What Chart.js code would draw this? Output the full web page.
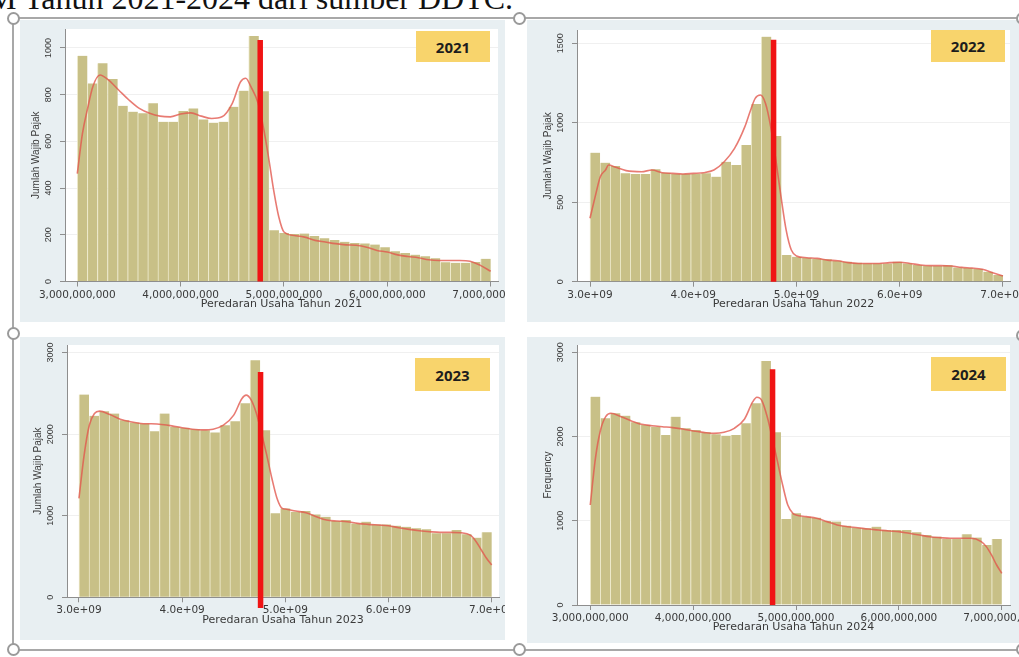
<!DOCTYPE html>
<html>
<head>
<meta charset="utf-8">
<script src="https://cdn.jsdelivr.net/npm/chart.js@4.4.1/dist/chart.umd.min.js"></script>
<style>
  html, body { margin: 0; padding: 0; background: #fff; width: 1019px; height: 657px; overflow: hidden; position: relative; }
  .cap { position: absolute; left: -12px; top: -18px; font-family: "Liberation Serif", serif; font-size: 32px; line-height: 32px; white-space: nowrap; color: #111; }
  .frame { position: absolute; left: 12px; top: 17px; width: 1100px; height: 630px; border: 2px solid #a8a8a8; }
  .handle { position: absolute; width: 9px; height: 9px; border: 2px solid #9a9a9a; border-radius: 50%; background: #fff; }
  canvas { position: absolute; background: #e8eff2; }
  .year { position: absolute; background: #f8d46c; font-family: "Open Sans", sans-serif; font-weight: 700; font-size: 15px; color: #1d1d1d;
          display: flex; align-items: center; justify-content: center; }
</style>
</head>
<body>
<div class="cap">M Tahun 2021-2024 dari sumber DDTC.</div>
<div class="frame"></div>

<canvas id="c2021" width="485" height="302" style="left:20px;top:20px"></canvas>
<canvas id="c2022" width="492" height="302" style="left:527px;top:20px"></canvas>
<canvas id="c2023" width="485" height="303" style="left:20px;top:337px"></canvas>
<canvas id="c2024" width="492" height="306" style="left:527px;top:337px"></canvas>

<div class="year" style="left:416px;top:31px;width:74px;height:31px">2021</div>
<div class="year" style="left:931px;top:30px;width:74px;height:32px">2022</div>
<div class="year" style="left:415px;top:358px;width:75px;height:33px">2023</div>
<div class="year" style="left:931px;top:357px;width:75px;height:34px">2024</div>

<div id="handles"></div>

<script>
// --- DATA (x in billions of rupiah) ---
const histStart = 3.0;
const histEnd = 7.0;

const counts2021 = [966, 848, 934, 867, 752, 727, 720, 763, 684, 684, 730, 741, 694, 680, 684, 748, 817, 1051, 815,
                    219, 208, 203, 205, 195, 185, 178, 170, 165, 163, 158, 147, 130, 122, 115, 108, 100, 82, 80, 80, 84, 97];
const counts2022 = [812, 749, 728, 682, 678, 678, 707, 686, 678, 678, 678, 682, 661, 755, 734, 860, 1118, 1542, 917,
                    168, 157, 151, 145, 141, 132, 126, 120, 115, 115, 115, 126, 115, 105, 101, 99, 103, 90, 86, 80, 63, 42];
const counts2023 = [2486, 2225, 2282, 2253, 2172, 2143, 2131, 2037, 2253, 2090, 2078, 2061, 2049, 2021, 2110, 2159, 2380, 2906, 2049,
                    1029, 1090, 1049, 1057, 1016, 988, 935, 947, 906, 927, 894, 894, 878, 865, 845, 833, 784, 784, 825, 772, 731, 796];
const counts2024 = [2474, 2216, 2276, 2248, 2169, 2137, 2117, 2019, 2236, 2098, 2078, 2050, 2026, 2011, 2019, 2157, 2394, 2897, 2050,
                    1021, 1088, 1049, 1037, 997, 990, 942, 918, 910, 930, 890, 890, 890, 863, 831, 811, 784, 784, 839, 800, 712, 784];

// kernel density overlay, read point by point
const kdeX2021 = [3.0, 3.05, 3.1, 3.15, 3.22, 3.3, 3.4, 3.5, 3.6, 3.7, 3.8, 3.9, 4.0, 4.1, 4.2, 4.3, 4.4, 4.5, 4.58, 4.63, 4.68, 4.75, 4.8, 4.85, 4.9, 4.95,
                  5.0, 5.1, 5.2, 5.3, 5.4, 5.5, 5.6, 5.7, 5.8, 5.9, 6.0, 6.1, 6.2, 6.3, 6.4, 6.5, 6.6, 6.7, 6.8, 6.9, 7.0];
const kdeY2021 = [462, 634, 741, 834, 884, 863, 820, 777, 741, 720, 708, 705, 717, 722, 708, 698, 705, 763, 855, 870, 834, 763, 662, 534, 391, 276,
                  212, 197, 190, 176, 169, 162, 157, 155, 147, 133, 126, 114, 107, 102, 93, 90, 90, 90, 87, 69, 44];

const kdeX2022 = [3.0, 3.05, 3.1, 3.15, 3.18, 3.25, 3.35, 3.5, 3.6, 3.7, 3.8, 3.9, 4.0, 4.1, 4.2, 4.3, 4.4, 4.5, 4.55, 4.6, 4.65, 4.7, 4.75, 4.8, 4.85, 4.9, 4.95,
                  5.0, 5.1, 5.2, 5.3, 5.4, 5.5, 5.6, 5.7, 5.8, 5.9, 6.0, 6.1, 6.2, 6.3, 6.4, 6.5, 6.6, 6.7, 6.8, 6.9, 7.0];
const kdeY2022 = [399, 535, 661, 703, 734, 720, 699, 692, 703, 686, 682, 678, 682, 686, 703, 755, 839, 976, 1070, 1154, 1175, 1122, 976, 766, 535, 325, 199,
                  162, 151, 147, 136, 132, 120, 115, 115, 115, 120, 122, 115, 105, 101, 101, 99, 90, 86, 78, 57, 36];

const kdeX2023 = [3.0, 3.05, 3.1, 3.15, 3.2, 3.3, 3.4, 3.5, 3.6, 3.7, 3.8, 3.9, 4.0, 4.1, 4.2, 4.3, 4.4, 4.5, 4.58, 4.62, 4.67, 4.72, 4.77, 4.82, 4.87, 4.92, 4.97,
                  5.0, 5.1, 5.2, 5.3, 5.4, 5.5, 5.6, 5.7, 5.8, 5.9, 6.0, 6.1, 6.2, 6.3, 6.4, 6.5, 6.6, 6.7, 6.8, 6.85, 6.9, 6.95, 7.0];
const kdeY2023 = [1212, 1743, 2110, 2253, 2282, 2241, 2184, 2151, 2131, 2127, 2119, 2102, 2078, 2061, 2053, 2061, 2110, 2233, 2437, 2478, 2417, 2253, 2008, 1743, 1457, 1212, 1090,
                  1082, 1057, 1037, 988, 947, 935, 927, 906, 894, 886, 878, 853, 833, 816, 804, 796, 796, 792, 755, 682, 580, 478, 396];

const kdeX2024 = kdeX2023;
const kdeY2024 = [1187, 1742, 2078, 2236, 2276, 2236, 2185, 2145, 2129, 2117, 2106, 2090, 2066, 2050, 2038, 2050, 2098, 2209, 2414, 2466, 2422, 2236, 1979, 1702, 1425, 1187, 1088,
                  1069, 1049, 1029, 990, 950, 930, 918, 902, 891, 879, 871, 851, 831, 811, 800, 792, 792, 792, 752, 693, 594, 475, 376];

// red cut-off bar drawn over each histogram
const cutoffX = [4.77, 4.778, 4.76, 4.772];
const cutoffTop = [1034, 1522, 2761, 2800];
const cutoffBottom = [0, 0, -130, 0];

const xTicks = [3, 4, 5, 6, 7];
const xLabelsComma = ['3,000,000,000', '4,000,000,000', '5,000,000,000', '6,000,000,000', '7,000,000,000'];
const xLabelsSci = ['3.0e+09', '4.0e+09', '5.0e+09', '6.0e+09', '7.0e+09'];
const yTicks2021 = [0, 200, 400, 600, 800, 1000];
const yTicks2022 = [0, 500, 1000, 1500];
const yTicks2023 = [0, 1000, 2000, 3000];
const yTicks2024 = [0, 1000, 2000, 3000];
const yTitles = ['Jumlah Wajib Pajak', 'Jumlah Wajib Pajak', 'Jumlah Wajib Pajak', 'Frequency'];
const xTitles = ['Peredaran Usaha Tahun 2021', 'Peredaran Usaha Tahun 2022', 'Peredaran Usaha Tahun 2023', 'Peredaran Usaha Tahun 2024'];

// --- PANEL LAYOUT (page pixels) ---
const panels = [
  { id: 'c2021', canvas: [20, 20, 485, 302],  area: [65, 29, 498, 281.5],  xRange: [2.881, 7.071], yMax: 1081,
    counts: counts2021, kdeX: kdeX2021, kdeY: kdeY2021, yTicks: yTicks2021, xLabels: xLabelsComma },
  { id: 'c2022', canvas: [527, 20, 492, 302], area: [577, 30, 1010, 281.7], xRange: [2.874, 7.068], yMax: 1584,
    counts: counts2022, kdeX: kdeX2022, kdeY: kdeY2022, yTicks: yTicks2022, xLabels: xLabelsSci },
  { id: 'c2023', canvas: [20, 337, 485, 303], area: [67, 345, 499, 597.3], xRange: [2.884, 7.071], yMax: 3093,
    counts: counts2023, kdeX: kdeX2023, kdeY: kdeY2023, yTicks: yTicks2023, xLabels: xLabelsSci },
  { id: 'c2024', canvas: [527, 337, 492, 306], area: [577, 345, 1010, 605], xRange: [2.871, 7.08], yMax: 3087,
    counts: counts2024, kdeX: kdeX2024, kdeY: kdeY2024, yTicks: yTicks2024, xLabels: xLabelsComma }
];

const AXIS = '#8e8e8e';
const TEXT = '#3a3a3a';

// white plot region on the blue-grey graph region
const plotBg = {
  id: 'plotBg',
  beforeDraw(chart) {
    const { ctx, chartArea: a } = chart;
    ctx.save();
    ctx.fillStyle = '#ffffff';
    ctx.fillRect(a.left, a.top, a.right - a.left, a.bottom - a.top);
    ctx.restore();
  }
};

// Stata style vertical y tick labels, centred on the tick
const rotatedYLabels = {
  id: 'rotatedYLabels',
  afterDraw(chart) {
    const ctx = chart.ctx;
    const ys = chart.scales.y;
    const left = chart.chartArea.left;
    ctx.save();
    ctx.font = '9px "Liberation Sans"';
    ctx.fillStyle = TEXT;
    ctx.textAlign = 'center';
    ctx.textBaseline = 'middle';
    chart.options.plugins.rotatedYLabels.values.forEach(v => {
      ctx.save();
      ctx.translate(left - 16, ys.getPixelForValue(v));
      ctx.rotate(-Math.PI / 2);
      ctx.fillText(String(v), 0, 0);
      ctx.restore();
    });
    ctx.restore();
  }
};

panels.forEach((p, k) => {
  const [cl, ct, cw, ch] = p.canvas;
  const [al, at, ar, ab] = p.area;
  const yAxisW = al - cl;
  const xAxisH = ct + ch - ab;
  const binW = (histEnd - histStart) / p.counts.length;

  const bars = p.counts.map((c, i) => ({ x: histStart + (i + 0.5) * binW, y: c }));
  const kde = p.kdeX.map((x, i) => ({ x: x, y: p.kdeY[i] }));
  const cutoff = [{ x: cutoffX[k], y: cutoffBottom[k] }, { x: cutoffX[k], y: cutoffTop[k] }];

  new Chart(document.getElementById(p.id), {
    type: 'bar',
    data: {
      datasets: [
        {
          type: 'bar',
          data: bars,
          backgroundColor: '#c8c087',
          borderColor: 'rgba(236, 232, 200, 0.9)',
          borderWidth: { left: 1, right: 0, top: 0, bottom: 0 },
          borderSkipped: false,
          barPercentage: 1,
          categoryPercentage: 1,
          order: 3
        },
        {
          type: 'line',
          data: kde,
          borderColor: 'rgba(226, 86, 76, 0.78)',
          borderWidth: 1.6,
          pointRadius: 0,
          cubicInterpolationMode: 'monotone',
          order: 2
        },
        {
          type: 'line',
          data: cutoff,
          borderColor: '#f01414',
          borderWidth: 5.5,
          borderCapStyle: 'butt',
          pointRadius: 0,
          clip: false,
          order: 1
        }
      ]
    },
    options: {
      responsive: false,
      animation: false,
      events: [],
      layout: { padding: { left: 0, top: at - ct, right: cl + cw - ar, bottom: 0 } },
      plugins: {
        legend: { display: false },
        tooltip: { enabled: false },
        rotatedYLabels: { values: p.yTicks }
      },
      scales: {
        x: {
          type: 'linear',
          offset: false,
          min: p.xRange[0],
          max: p.xRange[1],
          afterBuildTicks: s => { s.ticks = xTicks.map(v => ({ value: v })); },
          afterFit: s => { s.height = xAxisH; s.paddingLeft = 0; s.paddingRight = 0; },
          ticks: {
            callback: (v, i) => p.xLabels[i],
            autoSkip: false,
            maxRotation: 0,
            padding: 2,
            color: TEXT,
            font: { family: 'DejaVu Sans', size: 10.5 }
          },
          grid: { offset: false, drawOnChartArea: false, tickLength: 5, tickColor: AXIS },
          border: { color: AXIS, width: 1 },
          title: {
            display: true,
            text: xTitles[k],
            color: TEXT,
            font: { family: 'DejaVu Sans', size: 11 },
            padding: { top: 0, bottom: xAxisH - 22.5 - 6.6 }
          }
        },
        y: {
          min: 0,
          max: p.yMax,
          afterBuildTicks: s => { s.ticks = p.yTicks.map(v => ({ value: v })); },
          afterFit: s => { s.width = yAxisW; s.paddingTop = 0; s.paddingBottom = 0; },
          ticks: { display: false },
          grid: { color: 'rgba(0, 0, 0, 0.06)', tickLength: 5, tickColor: AXIS },
          border: { color: AXIS, width: 1 },
          title: {
            display: true,
            text: yTitles[k],
            color: TEXT,
            font: { family: 'Liberation Sans', size: 10 },
            padding: { top: yAxisW - 29 - 6, bottom: 0 }
          }
        }
      }
    },
    plugins: [plotBg, rotatedYLabels]
  });
});

// --- selection handles of the picture frame ---
const handleSpots = [[13, 18], [519, 18], [1022, 18], [13, 333], [1022, 335], [13, 649], [519, 649], [1022, 649]];
const holder = document.getElementById('handles');
handleSpots.forEach(([x, y]) => {
  const h = document.createElement('div');
  h.className = 'handle';
  h.style.left = (x - 6.5) + 'px';
  h.style.top = (y - 6.5) + 'px';
  holder.appendChild(h);
});
</script>
</body>
</html>
